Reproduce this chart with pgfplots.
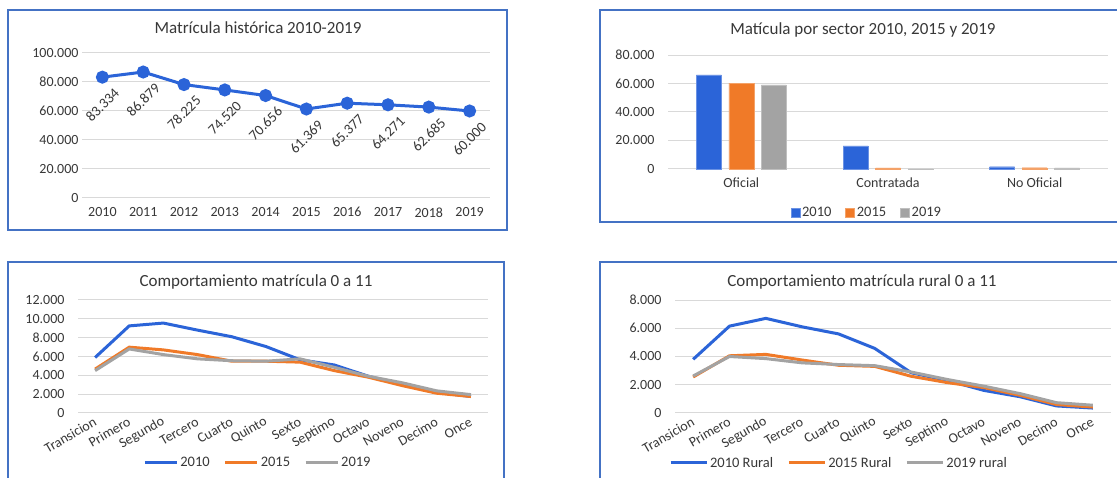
\documentclass[border=0pt]{standalone}
\usepackage{fontspec}
\setmainfont{Carlito}
\usepackage{pgfplots}
\pgfplotsset{compat=1.18}
\definecolor{cblue}{HTML}{2B64D8}
\definecolor{corange}{HTML}{F07A28}
\definecolor{cgray}{HTML}{A3A3A3}
\definecolor{gridc}{HTML}{D9D9D9}
\definecolor{txt}{HTML}{383838}
\definecolor{framec}{HTML}{4472C4}
\pgfplotsset{
  base/.style={
    scale only axis,
    anchor=south west,
    axis line style={draw=none},
    major tick length=0pt,
    ymajorgrids,
    grid style={gridc, line width=1pt},
    tick label style={font=\fontsize{14}{16}\selectfont, text=txt},
    scaled y ticks=false,
    ymin=0,
    clip=false,
    /pgf/number format/.cd, fixed, 1000 sep={.}, assume math mode=true,
  },
  linelegend/.style={
    legend style={draw=none, fill=none, font=\fontsize{14.5}{16}\selectfont, text=txt,
      legend columns=3, /tikz/every even column/.append style={column sep=12pt}},
    legend image code/.code={\draw[##1] (0pt,0pt) -- (32pt,0pt);},
  },
}
\begin{document}
\begin{tikzpicture}
\path[use as bounding box, fill=white] (0pt,0pt) rectangle (1117pt,478pt);
% frames
\draw[framec, line width=1.3pt] (8pt,248pt) rectangle (507pt,468pt);
\draw[framec, line width=1.3pt] (1125pt,256pt) -- (600pt,256pt) -- (600pt,468pt) -- (1125pt,468pt);
\draw[framec, line width=1.3pt] (8pt,-5pt) -- (8pt,216pt) -- (504pt,216pt) -- (504pt,-5pt);
\draw[framec, line width=1.3pt] (600pt,-5pt) -- (600pt,216pt) -- (1125pt,216pt);

% Panel 1
\begin{axis}[base, at={(82pt,280pt)}, width=408pt, height=145pt,
  xmin=-0.5, xmax=9.5, ymax=100000, ytick={0,20000,...,100000},
  xtick={0,...,9}, xticklabels={2010,2011,2012,2013,2014,2015,2016,2017,2018,2019},
  xticklabel style={yshift=-6pt},
  nodes near coords,
  every node near coord/.append style={font=\fontsize{14.5}{16}\selectfont, text=txt, yshift=-28pt, rotate=45, anchor=center},
]
\addplot[cblue, line width=3pt, mark=*, mark size=5pt] coordinates {
(0,83334) (1,86879) (2,78225) (3,74520) (4,70656) (5,61369) (6,65377) (7,64271) (8,62685) (9,60000)};
\end{axis}
\node[font=\fontsize{17}{19}\selectfont, text=txt] at (258pt,450pt) {Matrícula histórica 2010-2019};

% Panel 2
\begin{axis}[base, at={(668pt,309pt)}, width=440pt, height=114pt,
  ybar=7.5pt, bar width=25pt,
  xmin=-0.5, xmax=2.5, ymax=80000, ytick={0,20000,...,80000},
  xtick={0,1,2}, xticklabels={Oficial,Contratada,No Oficial},
  xticklabel style={yshift=-5pt},
  yticklabel style={xshift=-10pt},
  legend style={at={(0.452,-0.385)}, anchor=center, draw=none, fill=none,
    font=\fontsize{14.5}{16}\selectfont, text=txt, legend columns=3,
    /tikz/every even column/.append style={column sep=12pt}},
  legend image code/.code={\fill[#1] (0pt,-4.5pt) rectangle (9pt,4.5pt);},
]
\addplot[fill=cblue, draw=cblue!70!white] coordinates {(0,66000) (1,16300) (2,1600)};
\addplot[fill=corange, draw=corange!70!white] coordinates {(0,60200) (1,700) (2,900)};
\addplot[fill=cgray, draw=cgray!70!white] coordinates {(0,59000) (1,150) (2,850)};
\legend{2010,2015,2019}
\end{axis}
\node[font=\fontsize{17}{19}\selectfont, text=txt] at (863pt,448pt) {Matícula por sector 2010, 2015 y 2019};

% Panel 3
\begin{axis}[base, linelegend, at={(78pt,65pt)}, width=410pt, height=113pt,
  xmin=-0.5, xmax=11.5, ymax=12000, ytick={0,2000,...,12000},
  yticklabel style={xshift=-10pt},
  xtick={0,...,11},
  xticklabels={Transicion,Primero,Segundo,Tercero,Cuarto,Quinto,Sexto,Septimo,Octavo,Noveno,Decimo,Once},
  xticklabel style={font=\fontsize{14}{16}\selectfont, yshift=-6pt, xshift=3pt, rotate=30, anchor=east},
  legend style={at={(0.439,-0.442)}, anchor=center},
]
\addplot[cblue, line width=3pt] coordinates {
(0,5890) (1,9250) (2,9550) (3,8800) (4,8100) (5,7060) (6,5650) (7,5100) (8,3900) (9,3000) (10,2200) (11,1750)};
\addplot[corange, line width=3pt] coordinates {
(0,4660) (1,6990) (2,6700) (3,6200) (4,5500) (5,5500) (6,5400) (7,4500) (8,3800) (9,2900) (10,2100) (11,1750)};
\addplot[cgray, line width=3pt] coordinates {
(0,4500) (1,6800) (2,6200) (3,5750) (4,5550) (5,5500) (6,5750) (7,4850) (8,3900) (9,3200) (10,2350) (11,1950)};
\legend{2010,2015,2019}
\end{axis}
\node[font=\fontsize{17}{19}\selectfont, text=txt] at (256pt,196pt) {Comportamiento matrícula 0 a 11};

% Panel 4
\begin{axis}[base, linelegend, at={(675pt,65pt)}, width=436pt, height=113pt,
  xmin=-0.5, xmax=11.5, ymax=8000, ytick={0,2000,...,8000},
  yticklabel style={xshift=-10pt},
  xtick={0,...,11},
  xticklabels={Transicion,Primero,Segundo,Tercero,Cuarto,Quinto,Sexto,Septimo,Octavo,Noveno,Decimo,Once},
  xticklabel style={font=\fontsize{14}{16}\selectfont, yshift=-6pt, xshift=3pt, rotate=30, anchor=east},
  legend style={at={(0.376,-0.442)}, anchor=center},
  legend image code/.code={\draw[#1] (0pt,0pt) -- (36pt,0pt);},
]
\addplot[cblue, line width=3pt] coordinates {
(0,3800) (1,6150) (2,6700) (3,6100) (4,5600) (5,4570) (6,2850) (7,2300) (8,1600) (9,1150) (10,500) (11,350)};
\addplot[corange, line width=3pt] coordinates {
(0,2550) (1,4050) (2,4150) (3,3750) (4,3380) (5,3300) (6,2600) (7,2150) (8,1800) (9,1250) (10,600) (11,420)};
\addplot[cgray, line width=3pt] coordinates {
(0,2620) (1,4000) (2,3850) (3,3550) (4,3430) (5,3350) (6,2900) (7,2370) (8,1900) (9,1370) (10,730) (11,550)};
\legend{2010 Rural,2015 Rural,2019 rural}
\end{axis}
\node[font=\fontsize{17}{19}\selectfont, text=txt] at (862pt,196pt) {Comportamiento matrícula rural 0 a 11};
\end{tikzpicture}
\end{document}
